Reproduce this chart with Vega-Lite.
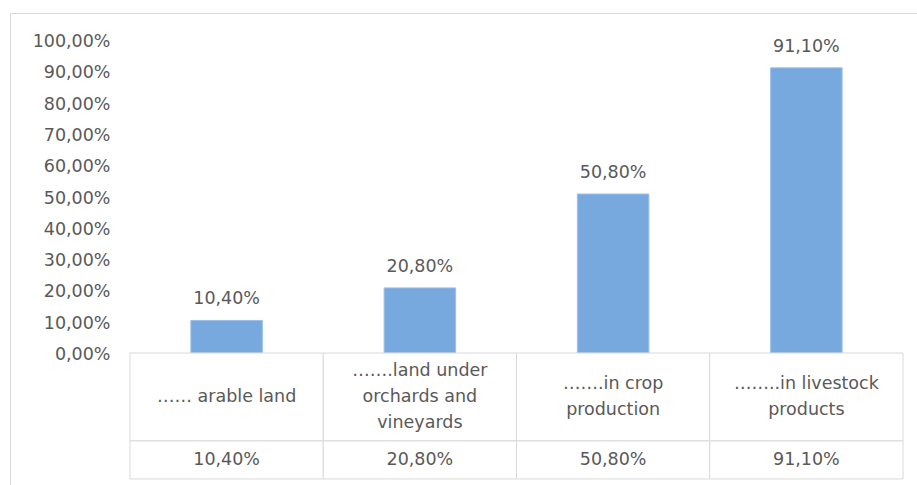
{
  "$schema": "https://vega.github.io/schema/vega-lite/v6.json",
  "width": 907,
  "height": 472,
  "padding": {"left": 10, "top": 13, "right": 0, "bottom": 0},
  "background": "white",
  "config": {
    "locale": {"number": {"decimal": ",", "thousands": ".", "grouping": [3], "currency": ["", " €"]}},
    "view": {"stroke": "#d9d9d9", "strokeWidth": 1},
    "text": {"font": "DejaVu Sans", "fontSize": 17.5, "color": "#595959"}
  },
  "data": {
    "values": [
      {"cat": "arable", "label": "…… arable land", "value": 0.104},
      {"cat": "orchards", "label": "…….land under\norchards and\nvineyards", "value": 0.208},
      {"cat": "crop", "label": "…….in crop\nproduction", "value": 0.508},
      {"cat": "livestock", "label": "……..in livestock\nproducts", "value": 0.911}
    ]
  },
  "layer": [
    {
      "encoding": {
        "x": {"field": "cat", "type": "nominal", "sort": null, "axis": null,
              "scale": {"range": [120, 893], "paddingInner": 0.63, "paddingOuter": 0.315}},
        "y": {"field": "value", "type": "quantitative",
              "scale": {"domain": [-0.4217, 1.0863], "nice": false, "zero": false},
              "axis": {"values": [0, 0.1, 0.2, 0.3, 0.4, 0.5, 0.6, 0.7, 0.8, 0.9, 1.0],
                       "format": ".2%", "offset": -120, "domain": false, "ticks": false, "grid": false,
                       "labelPadding": 20, "labelFont": "DejaVu Sans", "labelFontSize": 17.5,
                       "labelColor": "#595959", "title": null, "labelOffset": 1.5}}
      },
      "layer": [
        {"mark": {"type": "bar", "color": "#78a9de", "stroke": "#9cc0e8", "strokeWidth": 1}},
        {"mark": {"type": "text", "baseline": "alphabetic", "dy": -16},
         "encoding": {"text": {"field": "value", "type": "quantitative", "format": ".2%"}}}
      ]
    },
    {
      "encoding": {
        "x": {"field": "cat", "type": "nominal", "sort": null, "axis": null,
              "scale": {"range": [120, 893], "paddingInner": 0, "paddingOuter": 0}}
      },
      "layer": [
        {"mark": {"type": "rect", "fill": "white", "stroke": "#d9d9d9", "strokeWidth": 1},
         "encoding": {"y": {"datum": 0, "type": "quantitative"}, "y2": {"datum": -0.281}}},
        {"mark": {"type": "rect", "fill": "white", "stroke": "#d9d9d9", "strokeWidth": 1},
         "encoding": {"y": {"datum": -0.281, "type": "quantitative"}, "y2": {"datum": -0.4024}}},
        {"transform": [{"filter": "length(split(datum.label, '\\n')) == 1"}],
         "mark": {"type": "text", "baseline": "middle", "lineBreak": "\n", "lineHeight": 26},
         "encoding": {"y": {"datum": -0.1406, "type": "quantitative"}, "text": {"field": "label"}}},
        {"transform": [{"filter": "length(split(datum.label, '\\n')) == 2"}],
         "mark": {"type": "text", "baseline": "middle", "lineBreak": "\n", "lineHeight": 26, "dy": -13},
         "encoding": {"y": {"datum": -0.1406, "type": "quantitative"}, "text": {"field": "label"}}},
        {"transform": [{"filter": "length(split(datum.label, '\\n')) == 3"}],
         "mark": {"type": "text", "baseline": "middle", "lineBreak": "\n", "lineHeight": 26, "dy": -26},
         "encoding": {"y": {"datum": -0.1406, "type": "quantitative"}, "text": {"field": "label"}}},
        {"mark": {"type": "text", "baseline": "middle"},
         "encoding": {"y": {"datum": -0.342, "type": "quantitative"},
                      "text": {"field": "value", "type": "quantitative", "format": ".2%"}}}
      ]
    }
  ],
  "resolve": {"scale": {"x": "independent"}}
}
